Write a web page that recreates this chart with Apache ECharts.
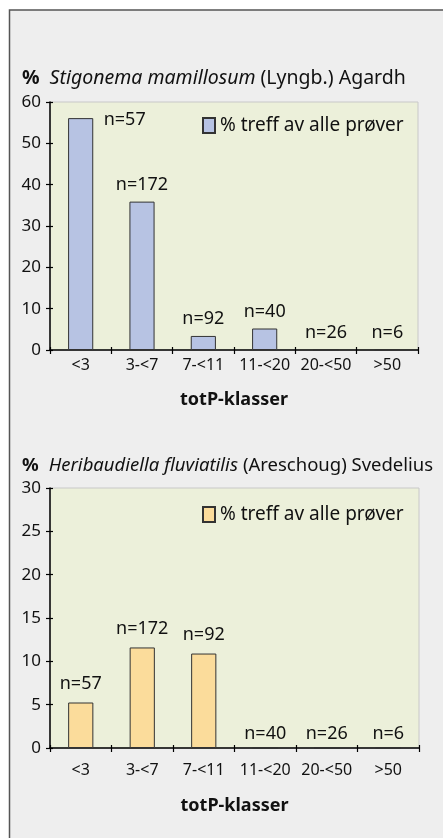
<!DOCTYPE html>
<html>
<head>
<meta charset="utf-8">
<script src="https://cdn.jsdelivr.net/npm/echarts@6/dist/echarts.min.js"></script>
<style>
  html, body { margin: 0; padding: 0; background: #fff; }
  #main { width: 443px; height: 838px; }
</style>
</head>
<body>
<div id="main"></div>
<script>
// totP-klasser
const categories = ['<3', '3-<7', '7-<11', '11-<20', '20-<50', '>50']
// antall prøver i hver klasse
const nLabels = ['n=57', 'n=172', 'n=92', 'n=40', 'n=26', 'n=6']
// % treff av alle prøver
const stigonemaValues = [56.1, 35.9, 3.4, 5.2, 0, 0]
const heribaudiellaValues = [5.25, 11.6, 10.9, 0, 0, 0]
const yTicks1 = [0, 10, 20, 30, 40, 50, 60]
const yTicks2 = [0, 5, 10, 15, 20, 25, 30]

const FONT = 'Noto Sans'
const TXT = '#111'
const legendText = '% treff av alle prøver'

const chart = echarts.init(document.getElementById('main'))

// label tweaks: first bar label sits beside the bar, empty bars sit a bit lower
function barData (values, firstOffset, zeroOffset) {
  return values.map((v, i) => {
    const d = { value: v }
    if (i === 0 && firstOffset) {
      d.label = { offset: firstOffset }
    } else if (v === 0 && zeroOffset) {
      d.label = { offset: zeroOffset }
    }
    return d
  })
}

function xAxisFor (gridIndex, margin, nameGap) {
  return {
    type: 'category',
    gridIndex: gridIndex,
    data: categories,
    name: 'totP-klasser',
    nameLocation: 'middle',
    nameGap: nameGap,
    nameTextStyle: { fontFamily: FONT, fontSize: 18, fontWeight: 'bold', color: TXT },
    axisLine: { lineStyle: { color: '#000', width: 1.5 } },
    axisTick: { show: true, length: 4, lineStyle: { color: '#000', width: 1.2 } },
    axisLabel: { margin: margin, fontFamily: FONT, fontSize: 16, color: TXT, interval: 0 },
    splitLine: { show: false }
  }
}

function yAxisFor (gridIndex, ticks) {
  return {
    type: 'value',
    gridIndex: gridIndex,
    min: ticks[0],
    max: ticks[ticks.length - 1],
    interval: ticks[1] - ticks[0],
    axisLine: { show: true, lineStyle: { color: '#000', width: 1.5 } },
    axisTick: { show: true, length: 4, lineStyle: { color: '#000', width: 1.2 } },
    axisLabel: { margin: 9, fontFamily: FONT, fontSize: 17, color: TXT },
    splitLine: { show: false }
  }
}

// inner half of the crossing tick marks
function innerX (gridIndex) {
  return {
    type: 'category', gridIndex: gridIndex, data: categories, position: 'bottom',
    axisLine: { show: false }, axisLabel: { show: false },
    axisTick: { show: true, inside: true, length: 3, lineStyle: { color: '#000', width: 1.2 } }
  }
}
function innerY (gridIndex, ticks) {
  return {
    type: 'value', gridIndex: gridIndex, position: 'left',
    min: ticks[0], max: ticks[ticks.length - 1], interval: ticks[1] - ticks[0],
    axisLine: { show: false }, axisLabel: { show: false }, splitLine: { show: false },
    axisTick: { show: true, inside: true, length: 3, lineStyle: { color: '#000', width: 1.2 } }
  }
}

function titleFor (top, size, italic, rest) {
  return {
    left: 22,
    top: top,
    padding: 0,
    text: '{p|%}  {i|' + italic + '} {n|' + rest + '}',
    textStyle: {
      rich: {
        p: { fontFamily: FONT, fontSize: size, fontWeight: 'bold', color: TXT },
        i: { fontFamily: FONT, fontSize: size, fontStyle: 'italic', fontWeight: 'normal', color: TXT },
        n: { fontFamily: FONT, fontSize: size, fontWeight: 'normal', color: TXT }
      }
    }
  }
}

function legendFor (top, name) {
  return {
    data: [name],
    left: 202,
    top: top,
    padding: 0,
    itemWidth: 12,
    itemHeight: 15,
    itemGap: 6,
    icon: 'rect',
    selectedMode: false,
    formatter: () => legendText,
    textStyle: { fontFamily: FONT, fontSize: 19, color: TXT, padding: [0, 0, 0, 0] }
  }
}

function seriesFor (name, idx, values, color, distance, firstOffset, zeroOffset) {
  return {
    name: name,
    type: 'bar',
    xAxisIndex: idx,
    yAxisIndex: idx,
    barWidth: '41%',
    data: barData(values, firstOffset, zeroOffset),
    itemStyle: { color: color, borderColor: '#333', borderWidth: 1 },
    label: {
      show: true,
      position: 'top',
      distance: distance,
      fontFamily: FONT,
      fontSize: 18,
      color: TXT,
      formatter: p => nLabels[p.dataIndex]
    }
  }
}

chart.setOption({
  backgroundColor: 'transparent',
  animation: false,
  graphic: [{
    type: 'rect',
    z: -10,
    shape: { x: 9.5, y: 10, width: 460, height: 860 },
    style: { fill: '#eeeeee', stroke: '#555', lineWidth: 1.5 }
  }],
  title: [
    titleFor(68, 19.5, 'Stigonema mamillosum', '(Lyngb.) Agardh'),
    titleFor(456, 18.5, 'Heribaudiella fluviatilis', '(Areschoug) Svedelius')
  ],
  legend: [
    legendFor(116, 'stig'),
    legendFor(505, 'heri')
  ],
  grid: [
    { left: 50, right: 25, top: 102, height: 248, show: true, backgroundColor: '#ecf0da', borderColor: '#c8c8c8', borderWidth: 1 },
    { left: 50, right: 24, top: 488, height: 260, show: true, backgroundColor: '#ecf0da', borderColor: '#c8c8c8', borderWidth: 1 }
  ],
  xAxis: [xAxisFor(0, 7, 41), xAxisFor(1, 14, 49), innerX(0), innerX(1)],
  yAxis: [yAxisFor(0, yTicks1), yAxisFor(1, yTicks2), innerY(0, yTicks1), innerY(1, yTicks2)],
  series: [
    seriesFor('stig', 0, stigonemaValues, '#b7c3e3', 8, [44, 19], null),
    seriesFor('heri', 1, heribaudiellaValues, '#fbdc9b', 10, null, [0, 5])
  ]
})
</script>
</body>
</html>
